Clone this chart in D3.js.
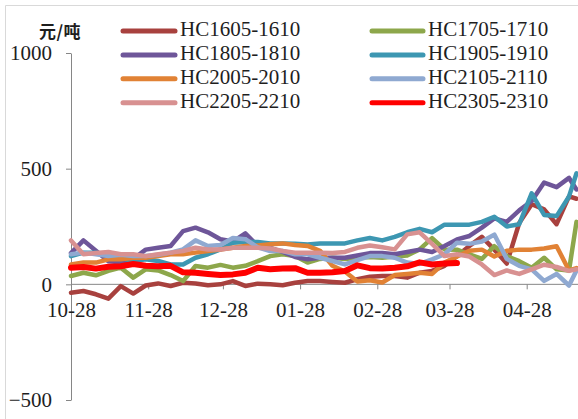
<!DOCTYPE html>
<html>
<head>
<meta charset="utf-8">
<script src="https://cdn.jsdelivr.net/npm/d3@7"></script>
<style>
  html, body { margin: 0; padding: 0; background: #fff; }
  svg { display: block; }
  svg text { font-family: 'Liberation Serif', 'Times New Roman', serif; fill: #1e1e1e; }
  svg text.unit { font-family: 'Noto Sans CJK SC', sans-serif; font-weight: 700; }
</style>
</head>
<body>
<svg id="chart" width="578" height="419"></svg>
<script>
// Trading dates (sampled) for the season
const dates = [
  "2023-10-28","2023-11-02","2023-11-07","2023-11-12","2023-11-17","2023-11-22","2023-11-27",
  "2023-12-02","2023-12-07","2023-12-12","2023-12-17","2023-12-22","2023-12-27","2024-01-01",
  "2024-01-06","2024-01-11","2024-01-16","2024-01-21","2024-01-26","2024-01-31","2024-02-05",
  "2024-02-10","2024-02-15","2024-02-20","2024-02-25","2024-03-01","2024-03-06","2024-03-11",
  "2024-03-16","2024-03-21","2024-03-26","2024-03-31","2024-04-05","2024-04-10","2024-04-15",
  "2024-04-20","2024-04-25","2024-04-30","2024-05-05","2024-05-10","2024-05-15","2024-05-18"
];

// Spread values, 元/吨
const hc1605 = [-36,-29,-43,-62,-8,-40,-5,4,-7,7,4,-4,0,14,-7,3,0,-4,7,14,14,10,7,22,33,36,36,29,50,58,80,122,166,205,150,90,265,346,324,260,380,370];
const hc1705 = [36,50,39,58,72,29,65,60,40,14,79,72,84,72,80,100,122,130,122,94,110,115,110,115,118,115,120,125,151,200,151,150,130,110,165,122,100,72,115,65,60,270];
const hc1805 = [135,190,145,100,95,110,150,158,166,230,245,225,195,185,220,166,158,140,118,108,115,115,115,125,135,135,130,140,150,140,166,194,209,245,285,270,320,360,440,420,460,410];
const hc1905 = [122,137,137,125,115,100,108,101,86,86,115,130,151,180,183,183,177,177,175,172,177,177,177,190,200,190,205,225,240,225,258,258,258,270,292,250,260,393,300,295,380,480];
const hc2005 = [86,94,94,108,108,115,115,122,130,130,137,144,151,158,166,168,173,177,170,166,145,80,55,12,18,8,40,45,50,45,94,120,145,150,120,145,150,150,155,165,60,70];
const hc2105 = [130,137,130,122,128,122,122,128,137,151,190,166,170,200,195,160,144,144,130,130,115,101,86,105,122,122,115,94,88,108,130,180,175,185,215,110,80,65,15,45,-5,60];
const hc2205 = [190,130,135,140,130,130,122,130,137,144,158,151,151,158,158,158,155,144,137,137,137,135,140,158,168,160,151,216,225,175,122,130,120,86,40,60,45,65,85,75,58,65];
const hc2305 = [72,75,68,76,78,88,80,78,80,52,50,45,40,43,50,72,65,68,70,50,50,52,58,82,70,68,72,78,95,86,90,92,null,null,null,null,null,null,null,null,null,null];

const seriesNames = ["HC1605-1610","HC1705-1710","HC1805-1810","HC1905-1910",
                     "HC2005-2010","HC2105-2110","HC2205-2210","HC2305-2310"];
const seriesValues = [hc1605, hc1705, hc1805, hc1905, hc2005, hc2105, hc2205, hc2305];
const seriesColors = ["#A8413E","#8DA74B","#6E5699","#3D97B2","#E18235","#8FA9D1","#D89191","#FF0000"];
const seriesWidths = [4.5,4.5,4.5,4.5,4.5,4.5,4.5,6];

const yTicks = [-500, 0, 500, 1000];
const xTickDates = ["2023-10-28","2023-11-28","2023-12-28","2024-01-28","2024-02-28","2024-03-28","2024-04-28"];
const yUnit = "元/吨";

const parse = d3.timeParse("%Y-%m-%d");
const svg = d3.select("#chart");
const serif = "'Liberation Serif', 'Times New Roman', serif";

// outer frame
svg.append("line").attr("x1", 5.5).attr("y1", 5.5).attr("x2", 578).attr("y2", 5.5)
  .attr("stroke", "#D9D9D9").attr("stroke-width", 1);
svg.append("line").attr("x1", 5.5).attr("y1", 5.5).attr("x2", 5.5).attr("y2", 419)
  .attr("stroke", "#D9D9D9").attr("stroke-width", 1);

const x = d3.scaleTime()
  .domain([parse("2023-10-28"), parse("2024-05-18")])
  .range([71, 576.5]);
const y = d3.scaleLinear().domain([-500, 1000]).range([400, 53]);

const axisColor = "#868686";

// y axis
const gy = svg.append("g").attr("transform", "translate(71,0)")
  .call(d3.axisLeft(y).tickValues(yTicks).tickSize(5).tickSizeOuter(0).tickPadding(14)
    .tickFormat(d3.format("d")));
gy.attr("font-family", null);
gy.select(".domain").attr("stroke", axisColor);
gy.selectAll(".tick line").attr("stroke", axisColor);
gy.selectAll(".tick text").attr("font-size", 21).style("font-family", serif).style("fill", "#1e1e1e");

// x axis along zero
const gx = svg.append("g").attr("transform", `translate(0,${y(0)})`)
  .call(d3.axisBottom(x).tickValues(xTickDates.map(parse)).tickSize(5).tickSizeOuter(0)
    .tickPadding(12.7).tickFormat(d3.timeFormat("%m-%d")));
gx.attr("font-family", null);
gx.select(".domain").attr("stroke", axisColor).attr("d", "M71,0H578");
gx.selectAll(".tick line").attr("stroke", axisColor);
gx.selectAll(".tick text").attr("font-size", 21).style("font-family", serif).style("fill", "#1e1e1e");

// unit label
svg.append("text")
  .attr("class", "unit")
  .attr("x", 39).attr("y", 33)
  .attr("dominant-baseline", "middle")
  .attr("font-size", 17)
  .style("letter-spacing", "0.5px")
  .text(yUnit);

// series lines
const line = d3.line()
  .defined(d => d.v !== null)
  .x(d => x(d.t))
  .y(d => y(d.v));

const parsedDates = dates.map(parse);
seriesValues.forEach((vals, i) => {
  const pts = vals.map((v, j) => ({ t: parsedDates[j], v }));
  svg.append("path")
    .datum(pts)
    .attr("d", line)
    .attr("fill", "none")
    .attr("stroke", seriesColors[i])
    .attr("stroke-width", seriesWidths[i])
    .attr("stroke-linejoin", "round")
    .attr("stroke-linecap", "round");
});

// legend: two columns, four rows
const legendCols = [{ x0: 123, x1: 175, tx: 180 }, { x0: 372, x1: 423, tx: 428 }];
const legend = svg.append("g");
seriesNames.forEach((name, i) => {
  const col = legendCols[i % 2];
  const row = Math.floor(i / 2);
  const cy = 31 + row * 23.9;
  legend.append("line")
    .attr("x1", col.x0).attr("x2", col.x1).attr("y1", cy).attr("y2", cy)
    .attr("stroke", seriesColors[i]).attr("stroke-width", 5)
    .attr("stroke-linecap", "round");
  legend.append("text")
    .attr("x", col.tx).attr("y", cy)
    .attr("dominant-baseline", "middle")
    .attr("font-size", 21)
    .style("font-family", serif)
    .text(name);
});
</script>
</body>
</html>
